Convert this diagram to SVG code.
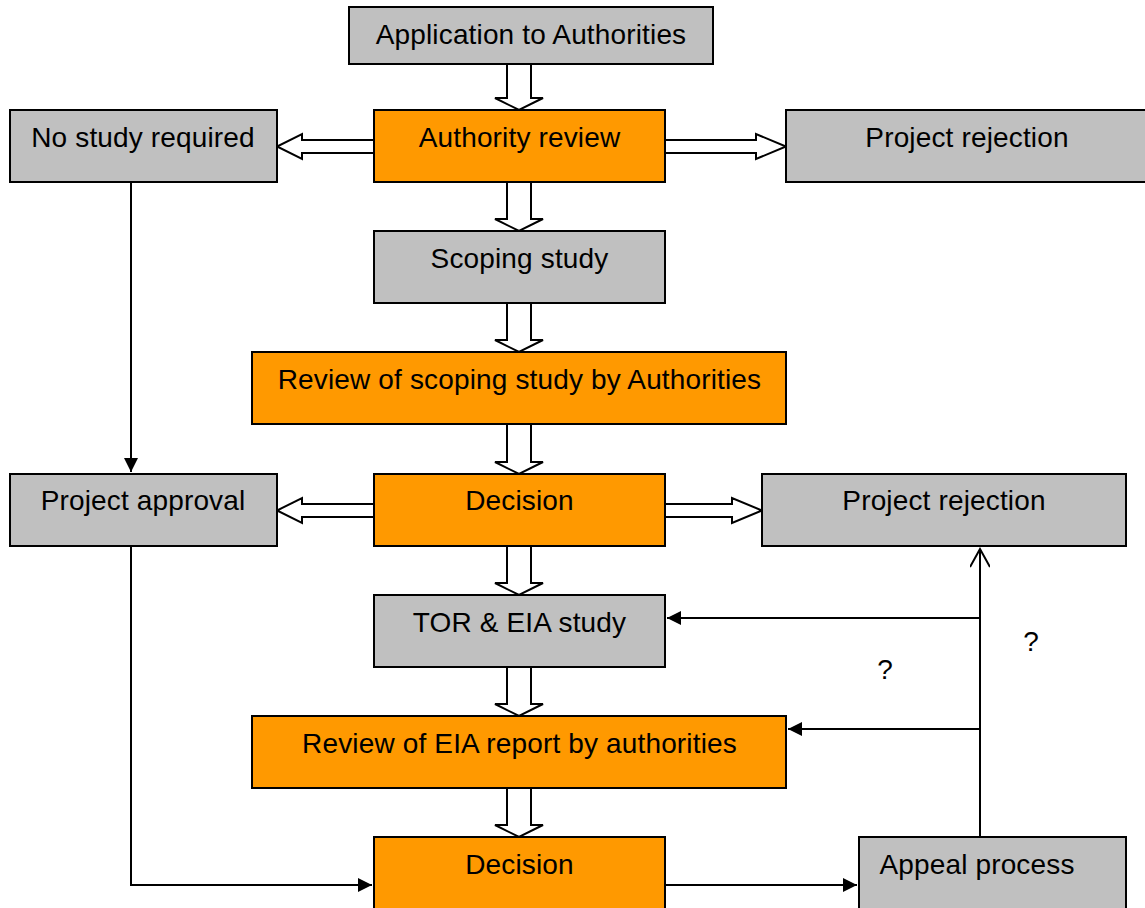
<svg xmlns="http://www.w3.org/2000/svg" width="1145" height="908" viewBox="0 0 1145 908">
  <style>
    .box { stroke: #000; stroke-width: 2; }
    .gray { fill: #C0C0C0; }
    .orange { fill: #FF9900; }
    .lbl { font-family: "Liberation Sans", Arial, sans-serif; font-size: 28px; letter-spacing: 0.15px; fill: #000; text-anchor: middle; }
    .hollow { fill: #fff; stroke: #000; stroke-width: 2; stroke-linejoin: miter; }
    .line { fill: none; stroke: #000; stroke-width: 2; }
  </style>
  <defs>
    <marker id="solid" viewBox="0 0 14 14" refX="14" refY="7" markerWidth="14" markerHeight="14" markerUnits="userSpaceOnUse" orient="auto">
      <path d="M0,0 L14,7 L0,14 Z" fill="#000"/>
    </marker>
    <marker id="open" viewBox="0 0 22 20" refX="20" refY="10" markerWidth="22" markerHeight="20" markerUnits="userSpaceOnUse" orient="auto">
      <path d="M2,0 L20,10 L2,20" fill="none" stroke="#000" stroke-width="2"/>
    </marker>
  </defs>

  <!-- thin connectors -->
  <g id="connectors">
    <path class="line" d="M131,182 V472" marker-end="url(#solid)"/>
    <path class="line" d="M131,546 V885 H372" marker-end="url(#solid)"/>
    <path class="line" d="M665,885 H857" marker-end="url(#solid)"/>
    <path class="line" d="M980,837 V549" marker-end="url(#open)"/>
    <path class="line" d="M980,618 H667" marker-end="url(#solid)"/>
    <path class="line" d="M980,729 H788" marker-end="url(#solid)"/>
  </g>

  <!-- block arrows between boxes -->
  <g id="block-arrows">
    <path class="hollow" d="M507,64 H531 V98 H543 L519,110 L495,98 H507 Z"/>
    <path class="hollow" d="M507,182 H531 V219 H543 L519,231 L495,219 H507 Z"/>
    <path class="hollow" d="M507,303 H531 V340 H543 L519,352 L495,340 H507 Z"/>
    <path class="hollow" d="M507,424 H531 V462 H543 L519,474 L495,462 H507 Z"/>
    <path class="hollow" d="M507,546 H531 V583 H543 L519,595 L495,583 H507 Z"/>
    <path class="hollow" d="M507,667 H531 V704 H543 L519,716 L495,704 H507 Z"/>
    <path class="hollow" d="M507,788 H531 V825 H543 L519,837 L495,825 H507 Z"/>
    <path class="hollow" d="M374,140 H302 V134 L277,146.5 L302,159 V153 H374 Z"/>
    <path class="hollow" d="M665,140 H756 V134 L786,146.5 L756,159 V153 H665 Z"/>
    <path class="hollow" d="M374,504 H302 V498 L277,510.5 L302,523 V517 H374 Z"/>
    <path class="hollow" d="M665,504 H732 V498 L762,510.5 L732,523 V517 H665 Z"/>
  </g>

  <g id="application">
    <rect class="box gray" x="349" y="7" width="364" height="57"/>
    <text class="lbl" x="531" y="44">Application to Authorities</text>
  </g>
  <g id="no-study">
    <rect class="box gray" x="10" y="110" width="267" height="72"/>
    <text class="lbl" x="143" y="147">No study required</text>
  </g>
  <g id="authority-review">
    <rect class="box orange" x="374" y="110" width="291" height="72"/>
    <text class="lbl" x="519.5" y="147">Authority review</text>
  </g>
  <g id="rejection-1">
    <rect class="box gray" x="786" y="110" width="370" height="72"/>
    <text class="lbl" x="967" y="147">Project rejection</text>
  </g>
  <g id="scoping">
    <rect class="box gray" x="374" y="231" width="291" height="72"/>
    <text class="lbl" x="519.5" y="268">Scoping study</text>
  </g>
  <g id="scoping-review">
    <rect class="box orange" x="252" y="352" width="534" height="72"/>
    <text class="lbl" x="519.5" y="389">Review of scoping study by Authorities</text>
  </g>
  <g id="approval">
    <rect class="box gray" x="10" y="474" width="267" height="72"/>
    <text class="lbl" x="143" y="510">Project approval</text>
  </g>
  <g id="decision-1">
    <rect class="box orange" x="374" y="474" width="291" height="72"/>
    <text class="lbl" x="519.5" y="510">Decision</text>
  </g>
  <g id="rejection-2">
    <rect class="box gray" x="762" y="474" width="364" height="72"/>
    <text class="lbl" x="944" y="510">Project rejection</text>
  </g>
  <g id="tor-eia">
    <rect class="box gray" x="374" y="595" width="291" height="72"/>
    <text class="lbl" x="519.5" y="632">TOR &amp; EIA study</text>
  </g>
  <g id="eia-review">
    <rect class="box orange" x="252" y="716" width="534" height="72"/>
    <text class="lbl" x="519.5" y="753">Review of EIA report by authorities</text>
  </g>
  <g id="decision-2">
    <rect class="box orange" x="374" y="837" width="291" height="80"/>
    <text class="lbl" x="519.5" y="874">Decision</text>
  </g>
  <g id="appeal">
    <rect class="box gray" x="859" y="837" width="267" height="80"/>
    <text class="lbl" x="977" y="874">Appeal process</text>
  </g>

  <g id="labels">
    <text class="lbl" x="885" y="679">?</text>
    <text class="lbl" x="1031" y="651">?</text>
  </g>
</svg>
